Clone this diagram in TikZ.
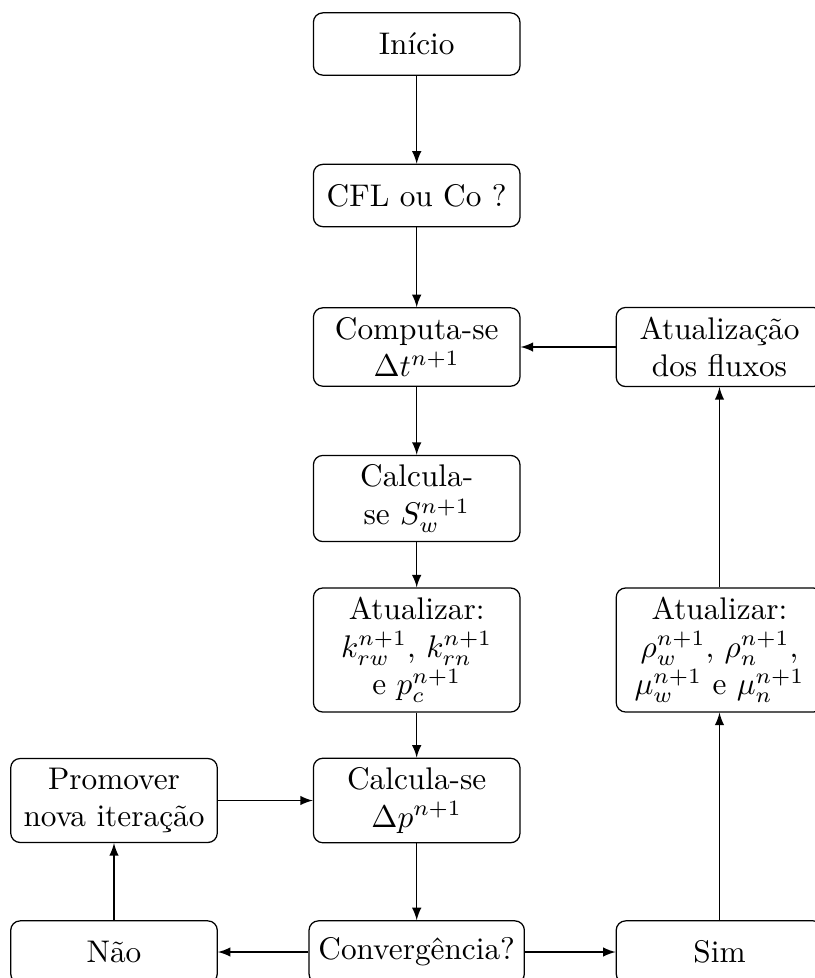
\documentclass[tikz,border=0pt]{standalone}
\usepackage{fontspec}
\usetikzlibrary{arrows}
\begin{document}
\begin{tikzpicture}[x=0.3195pt,y=-0.3195pt,
  box/.style={draw, rounded corners=3pt, minimum width=66pt, minimum height=19.9pt, align=center, inner sep=3pt},
  arr/.style={-latex}]
\useasboundingbox (0,0) rectangle (815,978);
\node[box] (inicio) at (416.7,44) {Início};
\node[box] (cfl) at (416.7,195.5) {CFL ou Co ?};
\node[box] (comp) at (416.7,347) {Computa-se\\$\Delta t^{n+1}$};
\node[box] (calcS) at (416.7,498.5) {Calcula-\\se $S_w^{n+1}$};
\node[box] (atk) at (416.7,650) {Atualizar:\\$k_{rw}^{n+1}$, $k_{rn}^{n+1}$\\e $p_c^{n+1}$};
\node[box] (calcp) at (416.7,800.5) {Calcula-se\\$\Delta p^{n+1}$};
\node[box] (conv) at (416.7,952) {Convergência?};
\node[box] (fluxos) at (719.5,347) {Atualização\\dos fluxos};
\node[box] (atrho) at (719.5,650) {Atualizar:\\$\rho_w^{n+1}$, $\rho_n^{n+1}$,\\$\mu_w^{n+1}$ e $\mu_n^{n+1}$};
\node[box] (sim) at (719.5,952) {Sim};
\node[box] (prom) at (114,800.5) {Promover\\nova iteração};
\node[box] (nao) at (114,952) {Não};
\draw[arr] (inicio) -- (cfl);
\draw[arr] (cfl) -- (comp);
\draw[arr] (comp) -- (calcS);
\draw[arr] (calcS) -- (atk);
\draw[arr] (atk) -- (calcp);
\draw[arr] (calcp) -- (conv);
\draw[arr] (conv) -- (nao);
\draw[arr] (conv) -- (sim);
\draw[arr] (nao) -- (prom);
\draw[arr] (prom) -- (calcp);
\draw[arr] (sim) -- (atrho);
\draw[arr] (atrho) -- (fluxos);
\draw[arr] (fluxos) -- (comp);
\end{tikzpicture}
\end{document}
